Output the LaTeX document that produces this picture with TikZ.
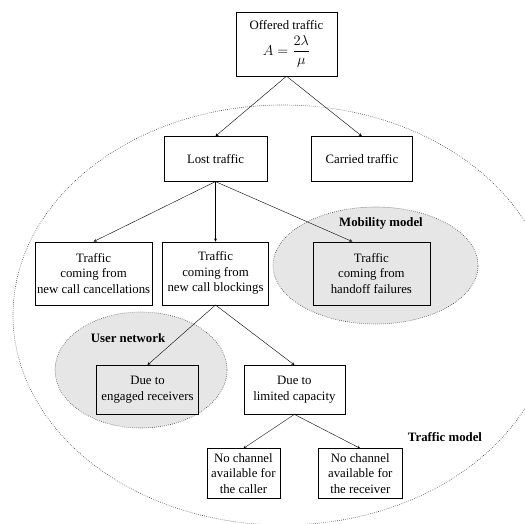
\documentclass[tikz,border=0pt]{standalone}
\usepackage{amsmath}
\usepackage{fontspec}
\setmainfont{Liberation Serif}
\usepackage{tikz}
\usetikzlibrary{positioning}
\usepackage{xcolor}
\pgfdeclarelayer{bg}
\pgfsetlayers{bg,main}
\definecolor{zonegray}{RGB}{230,230,230}

\begin{document}
\begin{tikzpicture}[font=\fontsize{12.8}{15.5}\selectfont, >=stealth]
%
\useasboundingbox (0,0) rectangle (525pt,-524pt);
\clip (0,0) rectangle (525pt,-524pt);

% OFFERED TRAFFIC
\node [rectangle, draw=black, minimum width=101pt, minimum height=64pt, inner sep=2pt, align=center] (offered) at (286.5pt,-44pt) {Offered traffic \\[5pt] {\fontsize{15}{17}\selectfont $A=\dfrac{2\lambda}{\mu}$}};

% LOST / CARRIED
\node [rectangle, draw=black, minimum width=103pt, minimum height=45pt, inner sep=3pt, align=center, below=60pt of offered, xshift=-71pt] (lost) {Lost traffic};
\node [rectangle, draw=black, minimum width=101pt, minimum height=45pt, inner sep=3pt, align=center, right=44pt of lost] (carried) {Carried traffic};

% NEW CALL BLOCKINGS
\node [rectangle, draw=black, minimum width=106pt, minimum height=63pt, inner sep=3pt, align=center, below=60pt of lost] (block) {Traffic \\ coming from \\ new call blockings};
% NEW CALL CANCELLATIONS
\node [rectangle, draw=black, minimum width=117pt, minimum height=63pt, inner sep=1pt, align=center, left=10pt of block] (cancel) {Traffic \\ coming from \\ new call cancellations};
% HANDOFF FAILURES
\node [rectangle, draw=black, minimum width=117pt, minimum height=63pt, inner sep=3pt, align=center, right=44pt of block] (hand) {Traffic \\ coming from \\ handoff failures};

% ENGAGED RECEIVERS
\node [rectangle, draw=black, minimum width=102pt, minimum height=49pt, inner sep=3pt, align=center, below=60pt of block, xshift=-68pt] (engaged) {Due to \\ engaged receivers};
% LIMITED CAPACITY
\node [rectangle, draw=black, minimum width=101pt, minimum height=49pt, inner sep=3pt, align=center, right=45pt of engaged] (limited) {Due to \\ limited capacity};

% NO CHANNEL
\node [rectangle, draw=black, minimum width=73pt, minimum height=50pt, inner sep=2pt, align=center, below=34pt of limited, xshift=-51pt] (caller) {No channel \\ available for \\ the caller};
\node [rectangle, draw=black, minimum width=84pt, minimum height=50pt, inner sep=2pt, align=center, right=38pt of caller] (receiver) {No channel \\ available for \\ the receiver};

% MODEL ZONES
\begin{pgfonlayer}{bg}
\draw [black!80, line width=0.6pt, dash pattern=on 0.6pt off 1.4pt] (283pt,-315pt) ellipse (270pt and 210pt);
\draw [black!80, line width=0.6pt, dash pattern=on 0.6pt off 1.4pt, fill=zonegray] (375.5pt,-265.5pt) ellipse (102.5pt and 58.5pt);
\draw [black!80, line width=0.6pt, dash pattern=on 0.6pt off 1.4pt, fill=zonegray] (141pt,-370pt) ellipse (86pt and 58pt);
\end{pgfonlayer}
\node [font=\fontsize{12.8}{15}\selectfont\bfseries] (mobility) at (381pt,-223pt) {Mobility model};
\node [font=\fontsize{12.8}{15}\selectfont\bfseries] (usernet) at (128pt,-338pt) {User network};
\node [font=\fontsize{12.8}{15}\selectfont\bfseries] (trafficmodel) at (445pt,-437pt) {Traffic model};

\draw [->] (offered.south) -- (lost.north);
\draw [->] (offered.south) -- (carried.north);
\draw [->] (lost.south) -- (cancel.north);
\draw [->] (lost.south) -- (block.north);
\draw [->] (lost.south) -- ([xshift=-19pt]hand.north);
\draw [->] (block.south) -- (engaged.north);
\draw [->] (block.south) -- (limited.north);
\draw [->] (limited.south) -- (caller.north);
\draw [->] (limited.south) -- (receiver.north);
\end{tikzpicture}
\end{document}
